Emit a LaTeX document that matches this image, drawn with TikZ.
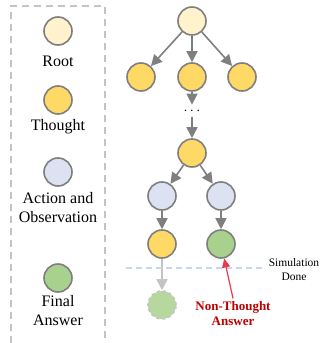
\documentclass[tikz,border=0pt]{standalone}
\usepackage{fontspec}
\setmainfont{Liberation Serif}
\usetikzlibrary{shapes,arrows.meta}

\definecolor{rootfill}{HTML}{FFF2CC}
\definecolor{thoughtfill}{HTML}{FFD966}
\definecolor{actfill}{HTML}{DDE2F2}
\definecolor{finalfill}{HTML}{A9D18E}
\definecolor{edgegray}{HTML}{7F7F7F}
\definecolor{fadegray}{HTML}{C4C4C4}
\definecolor{redtext}{HTML}{C00000}
\definecolor{redarrow}{HTML}{E8394F}
\definecolor{linkblue}{HTML}{C9D6F0}

\tikzset{
  state/.style={shape=circle,draw=edgegray,line width=1.6pt,minimum size=28pt,inner sep=0pt},
  flow/.style={-{Triangle[length=11pt,width=11pt]},draw=edgegray,fill=edgegray,line width=1.6pt},
  legendtext/.style={align=center,font=\fontsize{16}{19}\selectfont},
  sidetext/.style={align=center,font=\fontsize{11.5}{14}\selectfont},
}

\begin{document}
\begin{tikzpicture}[x=1pt,y=-1pt]
\useasboundingbox (0,0) rectangle (321,343);
\draw[draw=fadegray,line width=1.4pt,dash pattern=on 7pt off 5pt] (11,343) -- (11,6) -- (105,6) -- (105,343);

\node[state,fill=rootfill] (l0) at (58,31) {};
\node[legendtext] (t0) at (58,61) {Root};
\node[state,fill=thoughtfill] (l1) at (58,100) {};
\node[legendtext] (t1) at (58,127) {Thought};
\node[state,fill=actfill] (l2) at (58,172) {};
\node[legendtext] (t2) at (58,208) {Action and\\Observation};
\node[state,fill=finalfill] (l3) at (58,278) {};
\node[legendtext] (t3) at (58,311) {Final\\Answer};

\node[state,fill=rootfill] (0) at (192,21) {};
\node[state,fill=thoughtfill] (1) at (141,77) {};
\node[state,fill=thoughtfill] (2) at (192,77) {};
\node[state,fill=thoughtfill] (3) at (242,77) {};
\node[inner sep=3pt,font=\fontsize{14}{14}\selectfont] (4) at (192,111) {$\cdots$};
\node[state,fill=thoughtfill] (5) at (192,153) {};
\node[state,fill=actfill] (6) at (162,196) {};
\node[state,fill=actfill] (7) at (221,196) {};
\node[state,fill=thoughtfill] (8) at (162,244) {};
\node[state,fill=finalfill] (9) at (221,244) {};
\node[state,fill=finalfill!85!white,draw=fadegray,dashed] (10) at (162,305) {};

\draw [flow] (0) -- (1);
\draw [flow] (0) -- (2);
\draw [flow] (0) -- (3);
\draw [flow] (2) -- (4);
\draw [flow] (4) -- (5);
\draw [flow] (5) -- (6);
\draw [flow] (5) -- (7);
\draw [flow] (6) -- (8);
\draw [flow] (7) -- (9);
\draw [flow,draw=fadegray,fill=fadegray] (8) -- (10);

\coordinate (d0) at (126,268);
\coordinate (d1) at (263,268);
\draw[draw=linkblue,line width=1.2pt,dash pattern=on 6pt off 4pt] (d0) -- (d1);
\node[sidetext] (sim) at (294,270) {Simulation\\Done};

\node[align=center,text=redtext,font=\bfseries\fontsize{13}{15}\selectfont] (nt) at (233,314) {Non-Thought\\Answer};
\draw[-{Triangle[length=9pt,width=8pt]},draw=redarrow,line width=1.2pt] (nt.north) -- (9);
\end{tikzpicture}
\end{document}
